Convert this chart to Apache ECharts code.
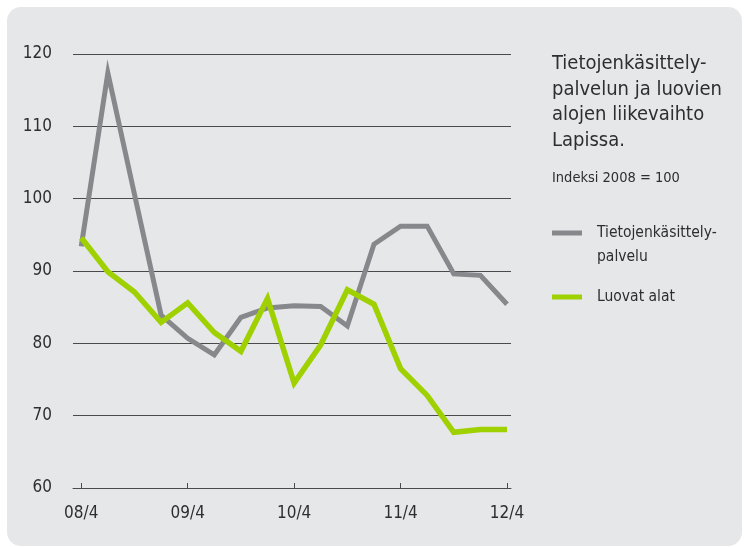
<!DOCTYPE html>
<html>
<head>
<meta charset="utf-8">
<script src="https://cdn.jsdelivr.net/npm/echarts@6/dist/echarts.min.js"></script>
<style>
  html, body { margin: 0; padding: 0; background: #fff; }
  #chart { width: 745px; height: 547px; }
</style>
</head>
<body>
<div id="chart"></div>
<script>
// neljännesvuodet 08/4 ... 12/4
let quarters = ['08/4','09/1','09/2','09/3','09/4','10/1','10/2','10/3','10/4','11/1','11/2','11/3','11/4','12/1','12/2','12/3','12/4'];
let tickLabels = ['08/4','09/4','10/4','11/4','12/4'];
let yTicks = [60, 70, 80, 90, 100, 110, 120];

// Tietojenkäsittelypalvelu
let tieto = [93.4, 117.4, 100.6, 83.9, 80.7, 78.4, 83.6, 84.9, 85.2, 85.1, 82.4, 93.7, 96.2, 96.2, 89.6, 89.4, 85.4];
// Luovat alat
let luovat = [94.6, 89.9, 87.1, 82.9, 85.6, 81.5, 78.9, 86.2, 74.5, 79.8, 87.4, 85.4, 76.5, 72.8, 67.7, 68.1, 68.1];

let font = '"Liberation Sans Narrow", "DejaVu Sans Condensed", sans-serif';
let textColor = '#2e2e2e';

function toPoints(arr){
    let out = [];
    for(let i=0;i<arr.length;i++){
        out.push([i, arr[i]]);
    }
    return out;
}

let tickIdx = [];
for(let i=0;i<quarters.length;i++){
    if(tickLabels.indexOf(quarters[i]) >= 0) tickIdx.push(i);
}

let myChart = echarts.init(document.getElementById('chart'));
myChart.setOption({
    backgroundColor: '#ffffff',
    animation: false,
    grid: {
        left: 73,
        right: 234,
        top: 54,
        bottom: 59
    },
    xAxis: {
        type: 'value',
        min: -0.31,
        max: 16.15,
        axisLine: {
            show: true,
            lineStyle: { color: '#4a4a4a', width: 1 }
        },
        axisTick: {
            show: true,
            inside: true,
            length: 5,
            customValues: tickIdx,
            lineStyle: { color: '#4a4a4a', width: 1 }
        },
        axisLabel: {
            customValues: tickIdx,
            formatter: function(v){ return quarters[Math.round(v)]; },
            color: textColor,
            fontFamily: font,
            fontSize: 17,
            margin: 17
        },
        splitLine: { show: false }
    },
    yAxis: {
        type: 'value',
        min: yTicks[0],
        max: yTicks[yTicks.length-1],
        interval: 10,
        axisLine: { show: false },
        axisTick: { show: false },
        axisLabel: {
            color: textColor,
            fontFamily: font,
            fontSize: 17,
            margin: 21
        },
        splitLine: {
            show: true,
            lineStyle: { color: '#4a4a4a', width: 1 }
        }
    },
    graphic: [
        {   // taustalaatikko
            type: 'rect',
            z: -10,
            silent: true,
            shape: { x: 7, y: 7, width: 735, height: 539, r: 14 },
            style: { fill: '#e6e7e9' }
        },
        {
            type: 'text', x: 552, y: 64,
            style: { text: 'Tietojenkäsittely-', font: '20px ' + font, fill: textColor, verticalAlign: 'middle' }
        },
        {
            type: 'text', x: 552, y: 89.5,
            style: { text: 'palvelun ja luovien', font: '20px ' + font, fill: textColor, verticalAlign: 'middle' }
        },
        {
            type: 'text', x: 552, y: 115,
            style: { text: 'alojen liikevaihto', font: '20px ' + font, fill: textColor, verticalAlign: 'middle' }
        },
        {
            type: 'text', x: 552, y: 140.5,
            style: { text: 'Lapissa.', font: '20px ' + font, fill: textColor, verticalAlign: 'middle' }
        },
        {
            type: 'text', x: 552, y: 178,
            style: { text: 'Indeksi 2008 = 100', font: '14.5px ' + font, fill: textColor, verticalAlign: 'middle' }
        },
        // selite
        {
            type: 'rect',
            shape: { x: 552, y: 230.5, width: 30, height: 5 },
            style: { fill: '#86888c' }
        },
        {
            type: 'text', x: 597, y: 233,
            style: { text: 'Tietojenkäsittely-', font: '15.5px ' + font, fill: textColor, verticalAlign: 'middle' }
        },
        {
            type: 'text', x: 597, y: 256.5,
            style: { text: 'palvelu', font: '15.5px ' + font, fill: textColor, verticalAlign: 'middle' }
        },
        {
            type: 'rect',
            shape: { x: 552, y: 294.5, width: 30, height: 5 },
            style: { fill: '#9fd000' }
        },
        {
            type: 'text', x: 597, y: 297,
            style: { text: 'Luovat alat', font: '15.5px ' + font, fill: textColor, verticalAlign: 'middle' }
        }
    ],
    series: [
        {
            name: 'Tietojenkäsittelypalvelu',
            type: 'line',
            data: toPoints(tieto),
            symbol: 'none',
            lineStyle: { color: '#86888c', width: 5, join: 'miter' },
            z: 2
        },
        {
            name: 'Luovat alat',
            type: 'line',
            data: toPoints(luovat),
            symbol: 'none',
            lineStyle: { color: '#9fd000', width: 5.5, join: 'miter' },
            z: 3
        }
    ]
});
</script>
</body>
</html>
